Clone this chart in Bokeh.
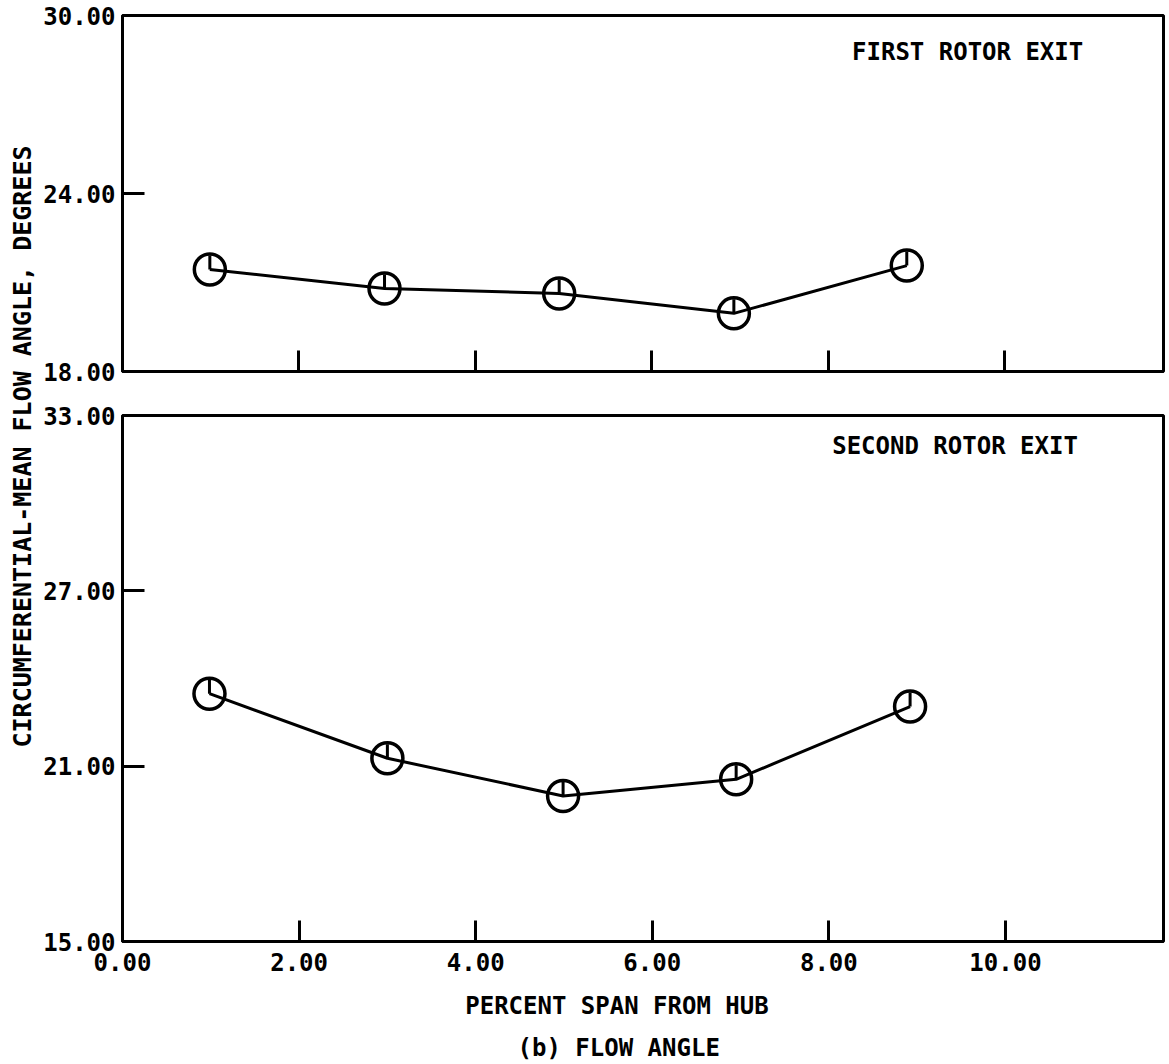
from bokeh.plotting import figure
from bokeh.layouts import row, column
from bokeh.models import Label, FixedTicker, NumeralTickFormatter
from bokeh.embed import file_html
from bokeh.resources import INLINE

# ---- data ----
span_first = [0.99, 2.97, 4.95, 6.93, 8.89]
angle_first = [21.44, 20.80, 20.63, 19.96, 21.57]
span_second = [0.985, 3.00, 4.99, 6.95, 8.92]
angle_second = [23.48, 21.27, 19.98, 20.55, 23.04]
x_ticks = [0, 2, 4, 6, 8, 10]
y_ticks_first = [18, 24, 30]
y_ticks_second = [15, 21, 27, 33]
title_first = "FIRST ROTOR EXIT"
title_second = "SECOND ROTOR EXIT"
x_title = "PERCENT SPAN FROM HUB"
caption = "(b) FLOW ANGLE"
y_title = "CIRCUMFERENTIAL-MEAN FLOW ANGLE, DEGREES"

FONT = "DejaVu Sans Mono"
FS = "24px"


def txt(size=FS, **kw):
    return Label(text_font=FONT, text_font_size=size, text_font_style="bold",
                 text_color="black", text_baseline="middle", **kw)


def style(p, yticks, show_x_labels):
    p.grid.visible = False
    p.outline_line_color = "black"
    p.outline_line_width = 3
    p.background_fill_color = "white"
    p.border_fill_color = "white"
    for ax in p.yaxis:
        ax.ticker = FixedTicker(ticks=yticks)
        ax.formatter = NumeralTickFormatter(format="0.00")
        ax.major_tick_in = 22
        ax.major_tick_out = 0
        ax.minor_tick_in = 0
        ax.minor_tick_out = 0
        ax.major_tick_line_width = 3
        ax.axis_line_width = 3
        ax.major_label_standoff = 7
        ax.major_label_text_font = FONT
        ax.major_label_text_font_size = FS
        ax.major_label_text_font_style = "bold"
        ax.major_label_text_color = "black"
    for ax in p.xaxis:
        ax.ticker = FixedTicker(ticks=x_ticks)
        ax.major_tick_in = 21
        ax.major_tick_out = 0
        ax.minor_tick_in = 0
        ax.minor_tick_out = 0
        ax.major_tick_line_width = 3
        ax.axis_line_width = 3
        ax.major_label_text_font = FONT
        ax.major_label_text_font_style = "bold"
        ax.major_label_text_color = "black"
        if show_x_labels:
            ax.formatter = NumeralTickFormatter(format="0.00")
            ax.major_label_text_font_size = FS
            ax.major_label_standoff = 11
        else:
            ax.major_label_overrides = {t: "" for t in x_ticks}
            ax.major_label_text_font_size = "10px"
            ax.major_label_standoff = 0


def draw(p, xs, ys):
    p.line(xs, ys, line_color="black", line_width=3)
    p.scatter(xs, ys, marker="circle", size=31, fill_color=None,
              line_color="black", line_width=3.5)
    p.ray(xs, ys, length=14, length_units="screen", angle=90,
          angle_units="deg", line_color="black", line_width=3)


# left label strip
p0 = figure(width=38, height=1062, x_range=(0, 1), y_range=(0, 1),
            min_border=0, toolbar_location=None, output_backend="svg")
p0.axis.visible = False
p0.grid.visible = False
p0.outline_line_color = None
p0.add_layout(txt(size="25px", x=0.58, y=(1062 - 446) / 1062, text=y_title,
                  angle=90, angle_units="deg", text_align="center"))

# top panel
p1 = figure(width=1128, height=400, x_range=(0, 11.8), y_range=(18, 30),
            min_border_left=79, min_border_right=3, min_border_top=15,
            min_border_bottom=29, toolbar_location=None, output_backend="svg")
style(p1, y_ticks_first, False)
draw(p1, span_first, angle_first)
p1.add_layout(txt(x=10.89, y=28.78, text=title_first, text_align="right"))

# bottom panel
p2 = figure(width=1128, height=591, x_range=(0, 11.79), y_range=(15, 33),
            min_border_left=84, min_border_right=3, min_border_top=15,
            min_border_bottom=50, toolbar_location=None, output_backend="svg")
style(p2, y_ticks_second, True)
draw(p2, span_second, angle_second)
p2.add_layout(txt(x=10.82, y=31.97, text=title_second, text_align="right"))

# caption strip below, sharing the bottom panel's x scale
p3 = figure(width=1128, height=71, x_range=p2.x_range, y_range=(0, 1),
            min_border_left=84, min_border_right=3, min_border_top=0,
            min_border_bottom=0, toolbar_location=None, output_backend="svg")
p3.axis.visible = False
p3.grid.visible = False
p3.outline_line_color = None
p3.add_layout(txt(x=5.6, y=0.80, text=x_title, text_align="center"))
p3.add_layout(txt(x=5.62, y=0.21, text=caption, text_align="center"))

layout = row(p0, column(p1, p2, p3, spacing=0), spacing=0)

with open("out.html", "w") as f:
    f.write(file_html(layout, INLINE))
